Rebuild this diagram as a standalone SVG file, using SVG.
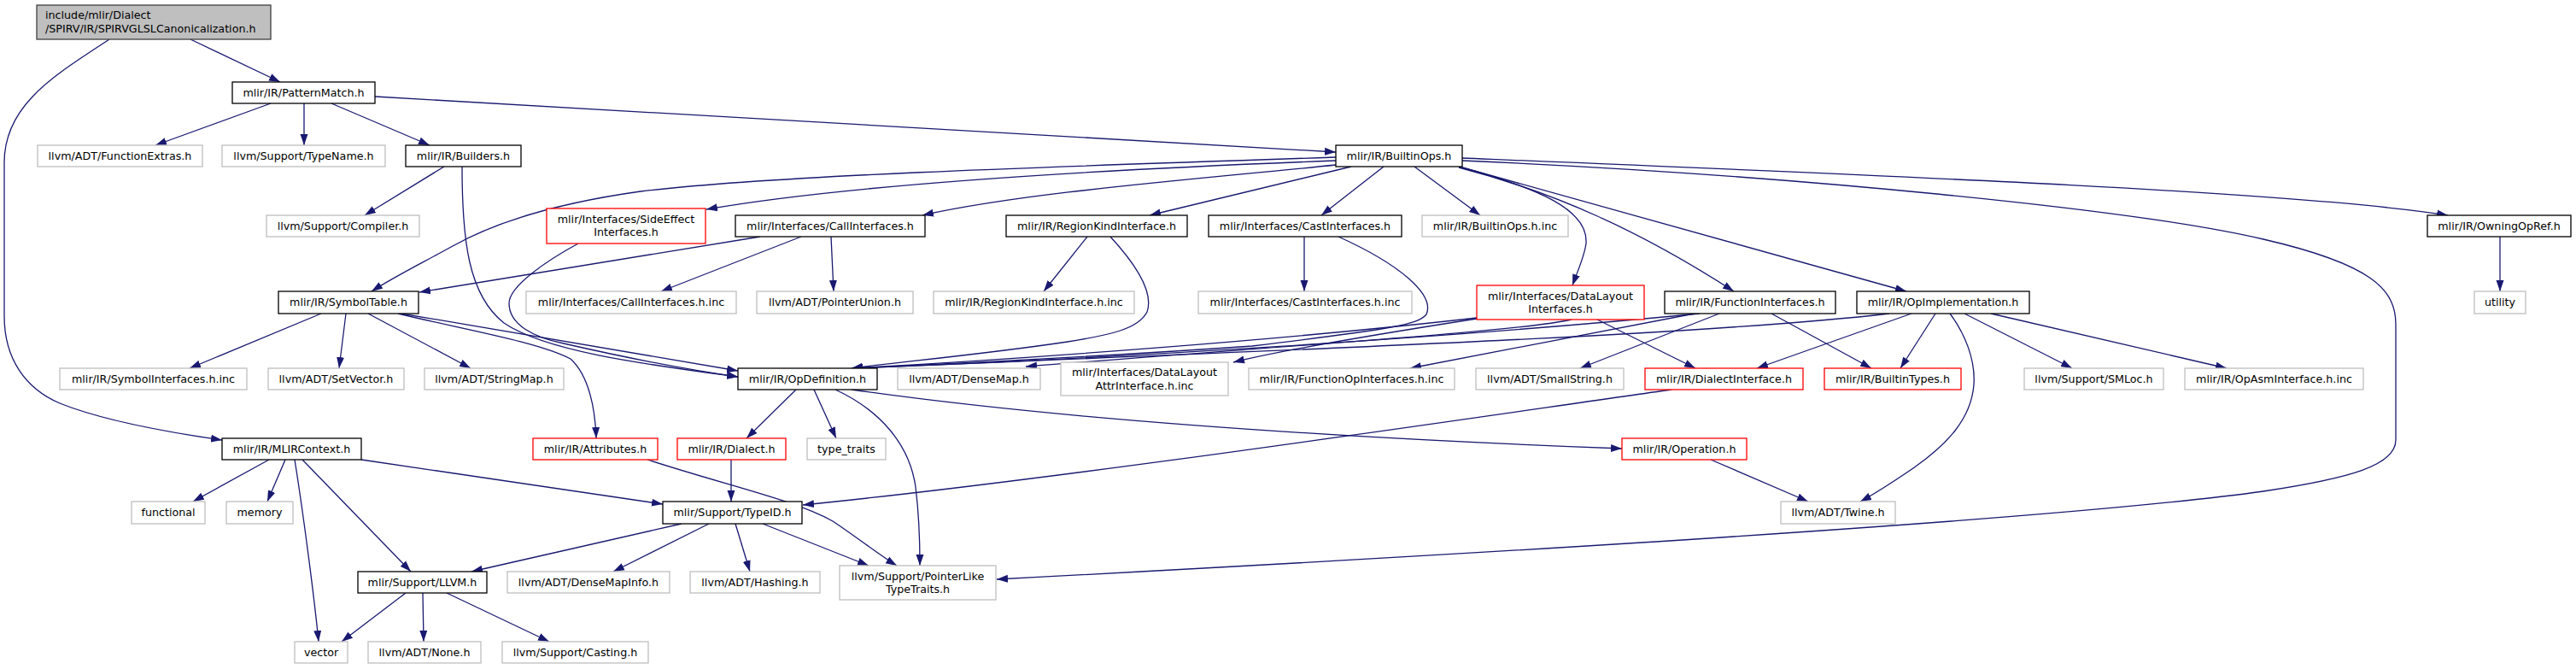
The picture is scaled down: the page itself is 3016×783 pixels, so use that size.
<svg xmlns="http://www.w3.org/2000/svg" width="3016" height="783" viewBox="0 0 3016 783">
<style>
rect{fill:#fff;stroke-width:1.3}
.b{stroke:#000}
.g{stroke:#bfbfbf}
.r{stroke:#ff0000}
.m{fill:#bfbfbf;stroke:#404040}
text{font-family:"DejaVu Sans","Liberation Sans",sans-serif;font-size:12.7px;fill:#000;text-anchor:middle}
.e path{fill:none;stroke:#191970;stroke-width:1.3;marker-end:url(#a)}
</style>
<defs>
<marker id="a" markerUnits="userSpaceOnUse" markerWidth="14" markerHeight="10" refX="13" refY="5" orient="auto"><path d="M0,0.5 L13,5 L0,9.5 z" fill="#191970"/></marker>
</defs>
<rect width="3016" height="783" style="fill:#fff;stroke:none"/>
<g id="edges" class="e">
<path d="M223,46 L328,96"/>
<path d="M128,46 C70,85 5,120 5,190 L5,370 C5,420 30,455 70,472 C120,492 190,505 260,515"/>
<path d="M317,121 L182,170"/>
<path d="M356,121 L356,170"/>
<path d="M388,121 L503,170"/>
<path d="M439,113 L1564,178"/>
<path d="M520,195 L427,252"/>
<path d="M541,195 C541,280 548,345 590,378 C640,412 760,427 864,441"/>
<path d="M677,285 C640,305 596,335 596,355 C596,380 625,395 660,402 C730,418 800,432 864,441"/>
<path d="M1564,184 C1200,196 900,206 750,224 C650,238 580,260 530,288 C490,310 460,325 435,341"/>
<path d="M1564,188 C1300,198 1000,215 827,245"/>
<path d="M1564,193 C1400,210 1200,225 1080,252"/>
<path d="M1582,195 L1346,252"/>
<path d="M1620,195 L1547,252"/>
<path d="M1656,195 L1733,252"/>
<path d="M1708,195 C1800,220 1860,245 1857,285 C1855,300 1848,315 1841,334"/>
<path d="M1708,196 C1820,225 1920,270 2030,341"/>
<path d="M1712,196 L2232,341"/>
<path d="M1712,185 C2200,205 2700,225 2866,252"/>
<path d="M1712,188 C2100,205 2500,245 2650,280 C2780,310 2805,340 2805,380 L2805,515 C2805,545 2750,560 2650,575 C2400,610 1700,650 1167,678"/>
<path d="M890,277 L491,342"/>
<path d="M938,277 L774,341"/>
<path d="M973,277 L976,341"/>
<path d="M1273,277 L1222,341"/>
<path d="M1300,277 C1335,315 1350,345 1343,365 C1333,385 1300,392 1250,400 C1150,415 1040,425 997,431"/>
<path d="M1527,277 L1527,341"/>
<path d="M1567,277 C1640,310 1680,345 1670,368 C1660,380 1630,385 1466,405 C1250,420 1100,426 997,431"/>
<path d="M1729,372 C1500,398 1200,420 997,431"/>
<path d="M1840,374 C1780,388 1500,405 1201,429"/>
<path d="M1729,373 C1620,390 1500,410 1444,424"/>
<path d="M1870,374 L1985,431"/>
<path d="M1990,367 C1700,395 1300,420 997,431"/>
<path d="M1984,367 L1651,431"/>
<path d="M2013,367 L1850,431"/>
<path d="M2074,367 L2191,431"/>
<path d="M2212,367 C2000,392 1500,410 997,431"/>
<path d="M2238,367 L2057,431"/>
<path d="M2266,367 L2225,431"/>
<path d="M2283,367 C2300,390 2313,420 2311,450 C2308,490 2280,520 2240,548 C2215,565 2195,578 2178,587"/>
<path d="M2300,367 L2426,431"/>
<path d="M2331,367 L2607,431"/>
<path d="M2927,277 L2927,341"/>
<path d="M470,367 L864,434"/>
<path d="M466,367 C540,385 630,400 668,420 C690,440 697,480 698,513"/>
<path d="M376,367 L222,431"/>
<path d="M405,367 L397,431"/>
<path d="M431,367 L551,431"/>
<path d="M932,456 L874,513"/>
<path d="M953,456 L979,513"/>
<path d="M978,456 C1030,480 1065,520 1072,570 C1077,610 1077,640 1077,662"/>
<path d="M997,456 C1200,485 1500,510 1899,525"/>
<path d="M758,538 C850,568 930,585 975,610 C1005,630 1030,650 1050,662"/>
<path d="M856,538 L856,587"/>
<path d="M1957,456 C1750,485 1250,560 940,591"/>
<path d="M2003,538 L2117,587"/>
<path d="M315,538 L226,587"/>
<path d="M334,538 L313,587"/>
<path d="M345,538 C355,600 368,700 373,751"/>
<path d="M354,538 L481,669"/>
<path d="M423,538 L776,590"/>
<path d="M798,613 L552,669"/>
<path d="M830,613 L718,669"/>
<path d="M861,613 L878,669"/>
<path d="M893,613 L1017,662"/>
<path d="M475,694 L400,751"/>
<path d="M495,694 L496,751"/>
<path d="M523,694 L643,751"/>
</g>
<g id="n0"><rect class="m" x="43" y="6" width="274" height="40"/><text x="53" y="22" style="text-anchor:start">include/mlir/Dialect</text><text x="53" y="37.5" style="text-anchor:start">/SPIRV/IR/SPIRVGLSLCanonicalization.h</text></g>
<g id="n1"><rect class="b" x="272" y="96" width="167" height="25"/><text x="355.5" y="112.5">mlir/IR/PatternMatch.h</text></g>
<g id="n2"><rect class="g" x="44" y="170" width="193" height="25"/><text x="140.5" y="186.5">llvm/ADT/FunctionExtras.h</text></g>
<g id="n3"><rect class="g" x="260" y="170" width="191" height="25"/><text x="355.5" y="186.5">llvm/Support/TypeName.h</text></g>
<g id="n4"><rect class="b" x="475" y="170" width="135" height="25"/><text x="542.5" y="186.5">mlir/IR/Builders.h</text></g>
<g id="n5"><rect class="b" x="1564" y="170" width="148" height="25"/><text x="1638" y="186.5">mlir/IR/BuiltinOps.h</text></g>
<g id="n6"><rect class="g" x="312" y="252" width="179" height="25"/><text x="401.5" y="268.5">llvm/Support/Compiler.h</text></g>
<g id="n7"><rect class="r" x="640" y="244" width="186" height="41"/><text x="733" y="260.5">mlir/Interfaces/SideEffect</text><text x="733" y="276">Interfaces.h</text></g>
<g id="n8"><rect class="b" x="861" y="252" width="222" height="25"/><text x="972" y="268.5">mlir/Interfaces/CallInterfaces.h</text></g>
<g id="n9"><rect class="b" x="1178" y="252" width="212" height="25"/><text x="1284" y="268.5">mlir/IR/RegionKindInterface.h</text></g>
<g id="n10"><rect class="b" x="1415" y="252" width="226" height="25"/><text x="1528" y="268.5">mlir/Interfaces/CastInterfaces.h</text></g>
<g id="n11"><rect class="g" x="1665" y="252" width="171" height="25"/><text x="1750.5" y="268.5">mlir/IR/BuiltinOps.h.inc</text></g>
<g id="n12"><rect class="b" x="2842" y="252" width="168" height="25"/><text x="2926" y="268.5">mlir/IR/OwningOpRef.h</text></g>
<g id="n13"><rect class="b" x="326" y="341" width="164" height="26"/><text x="408" y="358">mlir/IR/SymbolTable.h</text></g>
<g id="n14"><rect class="g" x="616" y="341" width="246" height="26"/><text x="739" y="358">mlir/Interfaces/CallInterfaces.h.inc</text></g>
<g id="n15"><rect class="g" x="886" y="341" width="183" height="26"/><text x="977.5" y="358">llvm/ADT/PointerUnion.h</text></g>
<g id="n16"><rect class="g" x="1093" y="341" width="235" height="26"/><text x="1210.5" y="358">mlir/IR/RegionKindInterface.h.inc</text></g>
<g id="n17"><rect class="g" x="1403" y="341" width="250" height="26"/><text x="1528" y="358">mlir/Interfaces/CastInterfaces.h.inc</text></g>
<g id="n18"><rect class="r" x="1729" y="334" width="196" height="40"/><text x="1827" y="350.5">mlir/Interfaces/DataLayout</text><text x="1827" y="366">Interfaces.h</text></g>
<g id="n19"><rect class="b" x="1949" y="341" width="200" height="26"/><text x="2049" y="358">mlir/IR/FunctionInterfaces.h</text></g>
<g id="n20"><rect class="b" x="2174" y="341" width="202" height="26"/><text x="2275" y="358">mlir/IR/OpImplementation.h</text></g>
<g id="n21"><rect class="g" x="2897" y="341" width="60" height="26"/><text x="2927" y="358">utility</text></g>
<g id="n22"><rect class="g" x="70" y="431" width="219" height="25"/><text x="179.5" y="447.5">mlir/IR/SymbolInterfaces.h.inc</text></g>
<g id="n23"><rect class="g" x="314" y="431" width="159" height="25"/><text x="393.5" y="447.5">llvm/ADT/SetVector.h</text></g>
<g id="n24"><rect class="g" x="497" y="431" width="163" height="25"/><text x="578.5" y="447.5">llvm/ADT/StringMap.h</text></g>
<g id="n25"><rect class="b" x="864" y="431" width="163" height="25"/><text x="945.5" y="447.5">mlir/IR/OpDefinition.h</text></g>
<g id="n26"><rect class="g" x="1051" y="431" width="167" height="25"/><text x="1134.5" y="447.5">llvm/ADT/DenseMap.h</text></g>
<g id="n27"><rect class="g" x="1242" y="424" width="196" height="39"/><text x="1340" y="440">mlir/Interfaces/DataLayout</text><text x="1340" y="455.5">AttrInterface.h.inc</text></g>
<g id="n28"><rect class="g" x="1462" y="431" width="241" height="25"/><text x="1582.5" y="447.5">mlir/IR/FunctionOpInterfaces.h.inc</text></g>
<g id="n29"><rect class="g" x="1728" y="431" width="173" height="25"/><text x="1814.5" y="447.5">llvm/ADT/SmallString.h</text></g>
<g id="n30"><rect class="r" x="1926" y="431" width="185" height="25"/><text x="2018.5" y="447.5">mlir/IR/DialectInterface.h</text></g>
<g id="n31"><rect class="r" x="2136" y="431" width="160" height="25"/><text x="2216" y="447.5">mlir/IR/BuiltinTypes.h</text></g>
<g id="n32"><rect class="g" x="2370" y="431" width="163" height="25"/><text x="2451.5" y="447.5">llvm/Support/SMLoc.h</text></g>
<g id="n33"><rect class="g" x="2558" y="431" width="209" height="25"/><text x="2662.5" y="447.5">mlir/IR/OpAsmInterface.h.inc</text></g>
<g id="n34"><rect class="b" x="260" y="513" width="163" height="25"/><text x="341.5" y="529.5">mlir/IR/MLIRContext.h</text></g>
<g id="n35"><rect class="r" x="624" y="513" width="146" height="25"/><text x="697" y="529.5">mlir/IR/Attributes.h</text></g>
<g id="n36"><rect class="r" x="793" y="513" width="127" height="25"/><text x="856.5" y="529.5">mlir/IR/Dialect.h</text></g>
<g id="n37"><rect class="g" x="945" y="513" width="92" height="25"/><text x="991" y="529.5">type_traits</text></g>
<g id="n38"><rect class="r" x="1899" y="513" width="146" height="25"/><text x="1972" y="529.5">mlir/IR/Operation.h</text></g>
<g id="n39"><rect class="g" x="154" y="587" width="86" height="26"/><text x="197" y="604">functional</text></g>
<g id="n40"><rect class="g" x="265" y="587" width="78" height="26"/><text x="304" y="604">memory</text></g>
<g id="n41"><rect class="b" x="776" y="587" width="163" height="26"/><text x="857.5" y="604">mlir/Support/TypeID.h</text></g>
<g id="n42"><rect class="g" x="2085" y="587" width="134" height="26"/><text x="2152" y="604">llvm/ADT/Twine.h</text></g>
<g id="n43"><rect class="b" x="419" y="669" width="151" height="25"/><text x="494.5" y="685.5">mlir/Support/LLVM.h</text></g>
<g id="n44"><rect class="g" x="594" y="669" width="190" height="25"/><text x="689" y="685.5">llvm/ADT/DenseMapInfo.h</text></g>
<g id="n45"><rect class="g" x="808" y="669" width="152" height="25"/><text x="884" y="685.5">llvm/ADT/Hashing.h</text></g>
<g id="n46"><rect class="g" x="983" y="662" width="183" height="40"/><text x="1074.5" y="678.5">llvm/Support/PointerLike</text><text x="1074.5" y="694">TypeTraits.h</text></g>
<g id="n47"><rect class="g" x="345" y="751" width="62" height="25"/><text x="376" y="767.5">vector</text></g>
<g id="n48"><rect class="g" x="431" y="751" width="132" height="25"/><text x="497" y="767.5">llvm/ADT/None.h</text></g>
<g id="n49"><rect class="g" x="588" y="751" width="171" height="25"/><text x="673.5" y="767.5">llvm/Support/Casting.h</text></g>
</svg>
